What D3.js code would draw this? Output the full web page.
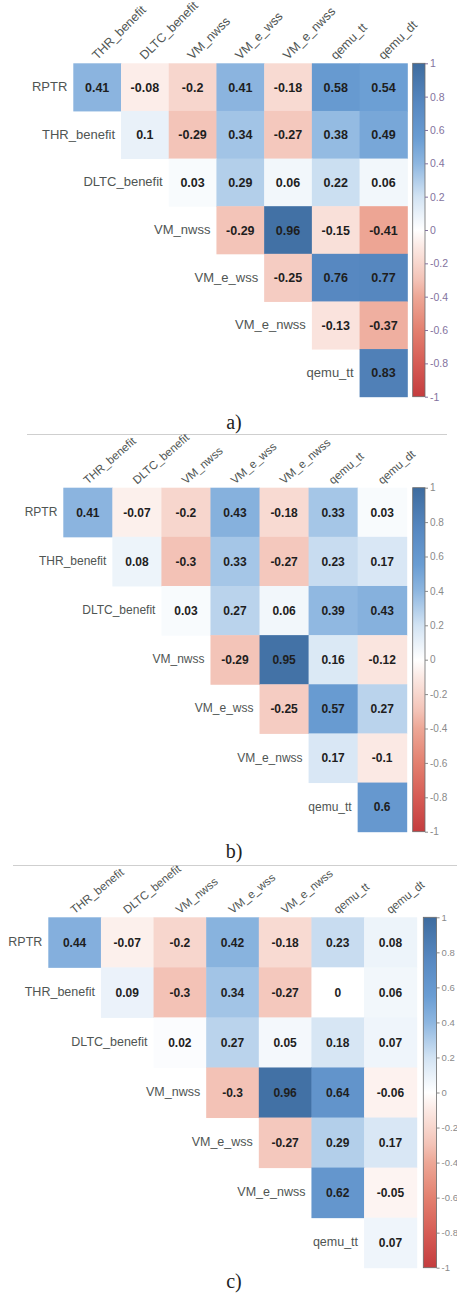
<!DOCTYPE html>
<html>
<head>
<meta charset="utf-8">
<script src="https://cdn.jsdelivr.net/npm/d3@7/dist/d3.min.js"></script>
<style>
  html, body { margin: 0; padding: 0; background: #fff; }
  svg { display: block; }
</style>
</head>
<body>
<svg id="chart" width="457" height="1302"></svg>
<script>
// Variable names: rows are the first seven, columns the last seven
const rowNames = ["RPTR", "THR_benefit", "DLTC_benefit", "VM_nwss", "VM_e_wss", "VM_e_nwss", "qemu_tt"];
const colNames = ["THR_benefit", "DLTC_benefit", "VM_nwss", "VM_e_wss", "VM_e_nwss", "qemu_tt", "qemu_dt"];

// Upper-triangle correlations, one row per variable (starting right of the diagonal)
const corrA = [
  [0.41, -0.08, -0.2, 0.41, -0.18, 0.58, 0.54],
  [0.1, -0.29, 0.34, -0.27, 0.38, 0.49],
  [0.03, 0.29, 0.06, 0.22, 0.06],
  [-0.29, 0.96, -0.15, -0.41],
  [-0.25, 0.76, 0.77],
  [-0.13, -0.37],
  [0.83]
];
const corrB = [
  [0.41, -0.07, -0.2, 0.43, -0.18, 0.33, 0.03],
  [0.08, -0.3, 0.33, -0.27, 0.23, 0.17],
  [0.03, 0.27, 0.06, 0.39, 0.43],
  [-0.29, 0.95, 0.16, -0.12],
  [-0.25, 0.57, 0.27],
  [0.17, -0.1],
  [0.6]
];
const corrC = [
  [0.44, -0.07, -0.2, 0.42, -0.18, 0.23, 0.08],
  [0.09, -0.3, 0.34, -0.27, 0, 0.06],
  [0.02, 0.27, 0.05, 0.18, 0.07],
  [-0.3, 0.96, 0.64, -0.06],
  [-0.27, 0.29, 0.17],
  [0.62, -0.05],
  [0.07]
];
const panelLabels = ["a)", "b)", "c)"];
const legendTicks = [1, 0.8, 0.6, 0.4, 0.2, 0, -0.2, -0.4, -0.6, -0.8, -1];

// Diverging red-white-blue palette
const colorStops = [-1, -0.8, -0.6, -0.4, -0.3, -0.2, -0.1, 0, 0.2, 0.4, 0.55, 0.75, 1];
const colorValues = ["#c43c3e", "#d65c55", "#e3806f", "#eda796", "#f3c2b6", "#f7d6cd", "#fbe9e4",
                     "#ffffff", "#d2e3f3", "#8db6e0", "#6a9dd3", "#5889c2", "#3e6c9f"];
const color = d3.scaleLinear().domain(colorStops).range(colorValues).interpolate(d3.interpolateRgb).clamp(true);

// plain hyphen-minus number formatting
const fmt = v => String(v);

// Panel geometry
const layouts = [
  { data: corrA, x0: 73.3, x1: 407.3, y0: 63.3, y1: 396.7, cbx: 412.7, cbw: 12.3,
    rowFont: 13, colFont: 12.5, colAngle: -45, valFont: 12.5, tickColor: "#83739e", tickFont: 10.5,
    caption: { x: 234, y: 429 }, rule: { x1: 27, x2: 447, y: 434.5 } },
  { data: corrB, x0: 63.3, x1: 406.7, y0: 487.7, y1: 831.7, cbx: 412.7, cbw: 12.3,
    rowFont: 12, colFont: 11.5, colAngle: -41, valFont: 12, tickColor: "#8a8a8a", tickFont: 10,
    caption: { x: 234, y: 858 }, rule: { x1: 13, x2: 457, y: 865.5 } },
  { data: corrC, x0: 48.3, x1: 416.7, y0: 917.3, y1: 1267.7, cbx: 423.3, cbw: 13.3,
    rowFont: 12.5, colFont: 11.5, colAngle: -39, valFont: 12, tickColor: "#8a8a8a", tickFont: 9.5,
    caption: { x: 234, y: 1288 }, rule: null }
];

const svg = d3.select("#chart");
const defs = svg.append("defs");

layouts.forEach((L, p) => {
  const g = svg.append("g");
  const x = d3.scaleBand().domain(colNames).range([L.x0, L.x1]);
  const y = d3.scaleBand().domain(rowNames).range([L.y0, L.y1]);

  // flatten the triangle into cells
  const cells = [];
  L.data.forEach((row, i) => {
    row.forEach((v, k) => {
      cells.push({ row: rowNames[i], col: colNames[i + k], value: v });
    });
  });

  g.selectAll("rect.cell").data(cells).join("rect")
    .attr("class", "cell")
    .attr("x", d => x(d.col))
    .attr("y", d => y(d.row))
    .attr("width", x.bandwidth() + 0.5)
    .attr("height", y.bandwidth() + 0.5)
    .attr("fill", d => color(d.value));

  g.selectAll("text.val").data(cells).join("text")
    .attr("class", "val")
    .attr("x", d => x(d.col) + x.bandwidth() / 2)
    .attr("y", d => y(d.row) + y.bandwidth() / 2)
    .attr("dy", "0.36em")
    .attr("text-anchor", "middle")
    .attr("font-family", "Liberation Sans, Arial, sans-serif")
    .attr("font-weight", "bold")
    .attr("font-size", L.valFont)
    .attr("fill", "#1e1e1e")
    .text(d => fmt(d.value));

  // row labels, right-aligned against the first cell of each row
  g.selectAll("text.rowlab").data(rowNames).join("text")
    .attr("class", "rowlab")
    .attr("x", (d, i) => x(colNames[i]) - 6)
    .attr("y", d => y(d) + y.bandwidth() / 2)
    .attr("dy", "0.3em")
    .attr("text-anchor", "end")
    .attr("font-family", "Liberation Sans, Arial, sans-serif")
    .attr("font-size", L.rowFont)
    .attr("fill", "#4f5553")
    .text(d => d);

  // rotated column labels above the top row
  g.selectAll("text.collab").data(colNames).join("text")
    .attr("class", "collab")
    .attr("transform", d => `translate(${x(d) + x.bandwidth() / 2},${L.y0 - 3}) rotate(${L.colAngle})`)
    .attr("font-family", "Liberation Sans, Arial, sans-serif")
    .attr("font-size", L.colFont)
    .attr("fill", "#4f5553")
    .text(d => d);

  // colour bar
  const gradId = "grad" + p;
  const grad = defs.append("linearGradient").attr("id", gradId)
    .attr("x1", 0).attr("y1", 1).attr("x2", 0).attr("y2", 0);
  colorStops.forEach((s, i) => {
    grad.append("stop").attr("offset", (s + 1) / 2).attr("stop-color", colorValues[i]);
  });
  const cbScale = d3.scaleLinear().domain([-1, 1]).range([L.y1, L.y0]);
  g.append("rect")
    .attr("x", L.cbx).attr("y", L.y0)
    .attr("width", L.cbw).attr("height", L.y1 - L.y0)
    .attr("fill", `url(#${gradId})`)
    .attr("stroke", "#6b6b6b").attr("stroke-width", 0.8);

  const axis = d3.axisRight(cbScale).tickValues(legendTicks).tickSize(3).tickPadding(2)
    .tickFormat(fmt);
  const ax = g.append("g").attr("transform", `translate(${L.cbx + L.cbw},0)`).call(axis);
  ax.select(".domain").remove();
  ax.selectAll(".tick line").attr("stroke", L.tickColor);
  ax.selectAll(".tick text")
    .attr("font-family", "Liberation Sans, Arial, sans-serif")
    .attr("font-size", L.tickFont)
    .attr("fill", L.tickColor);

  // caption
  g.append("text")
    .attr("x", L.caption.x).attr("y", L.caption.y)
    .attr("text-anchor", "middle")
    .attr("font-family", "Liberation Serif, Times New Roman, serif")
    .attr("font-size", 20)
    .attr("fill", "#222")
    .text(panelLabels[p]);

  if (L.rule) {
    g.append("line")
      .attr("x1", L.rule.x1).attr("x2", L.rule.x2)
      .attr("y1", L.rule.y).attr("y2", L.rule.y)
      .attr("stroke", "#cfcfcf").attr("stroke-width", 1);
  }
});
</script>
</body>
</html>
